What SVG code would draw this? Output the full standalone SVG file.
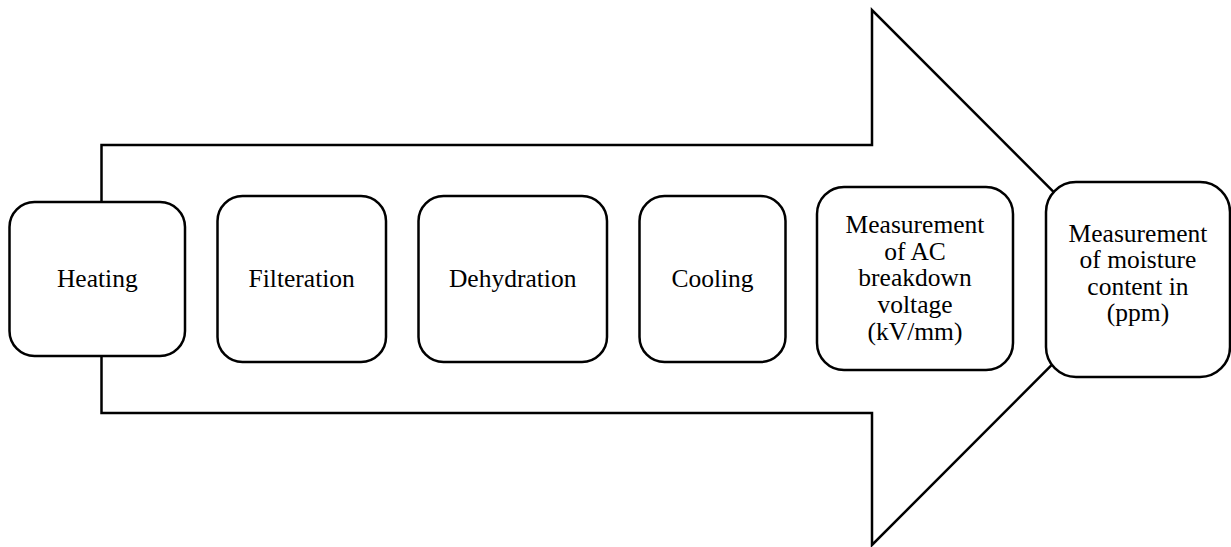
<svg xmlns="http://www.w3.org/2000/svg" width="1231" height="547" viewBox="0 0 1231 547">
  <style>
    .step { fill: #ffffff; stroke: #000000; stroke-width: 2.5; }
    .flow { fill: #ffffff; stroke: #000000; stroke-width: 2.5; stroke-linejoin: miter; }
    .label { font-family: "Liberation Serif", "Times New Roman", serif; font-size: 25.5px; fill: #000000; text-anchor: middle; }
  </style>
  <rect width="1231" height="547" fill="#ffffff"/>

  <!-- Block arrow carrying the process sequence -->
  <g id="connectors">
    <polygon class="flow" points="101.5,145 872,145 872,10 1139,277.5 872,545 872,413 101.5,413"/>
  </g>

  <g id="heating">
    <rect class="step" x="9.5" y="202" width="175.5" height="154" rx="25"/>
    <text class="label" x="97.3" y="286.5">Heating</text>
  </g>

  <g id="filteration">
    <rect class="step" x="217.5" y="196" width="168.5" height="166" rx="25"/>
    <text class="label" x="301.7" y="286.5">Filteration</text>
  </g>

  <g id="dehydration">
    <rect class="step" x="418.5" y="196" width="188.5" height="166" rx="25"/>
    <text class="label" x="512.7" y="286.5">Dehydration</text>
  </g>

  <g id="cooling">
    <rect class="step" x="639.5" y="196" width="146" height="166" rx="25"/>
    <text class="label" x="712.5" y="286.5">Cooling</text>
  </g>

  <g id="ac-breakdown">
    <rect class="step" x="817" y="187" width="196" height="183" rx="27"/>
    <text class="label" x="915" y="233">Measurement</text>
    <text class="label" x="915" y="259.7">of AC</text>
    <text class="label" x="915" y="286.4">breakdown</text>
    <text class="label" x="915" y="313.1">voltage</text>
    <text class="label" x="915" y="339.8">(kV/mm)</text>
  </g>

  <g id="moisture">
    <rect class="step" x="1046" y="182" width="184" height="195" rx="30"/>
    <text class="label" x="1138" y="241.5">Measurement</text>
    <text class="label" x="1138" y="268">of moisture</text>
    <text class="label" x="1138" y="294.5">content in</text>
    <text class="label" x="1138" y="321">(ppm)</text>
  </g>
</svg>
